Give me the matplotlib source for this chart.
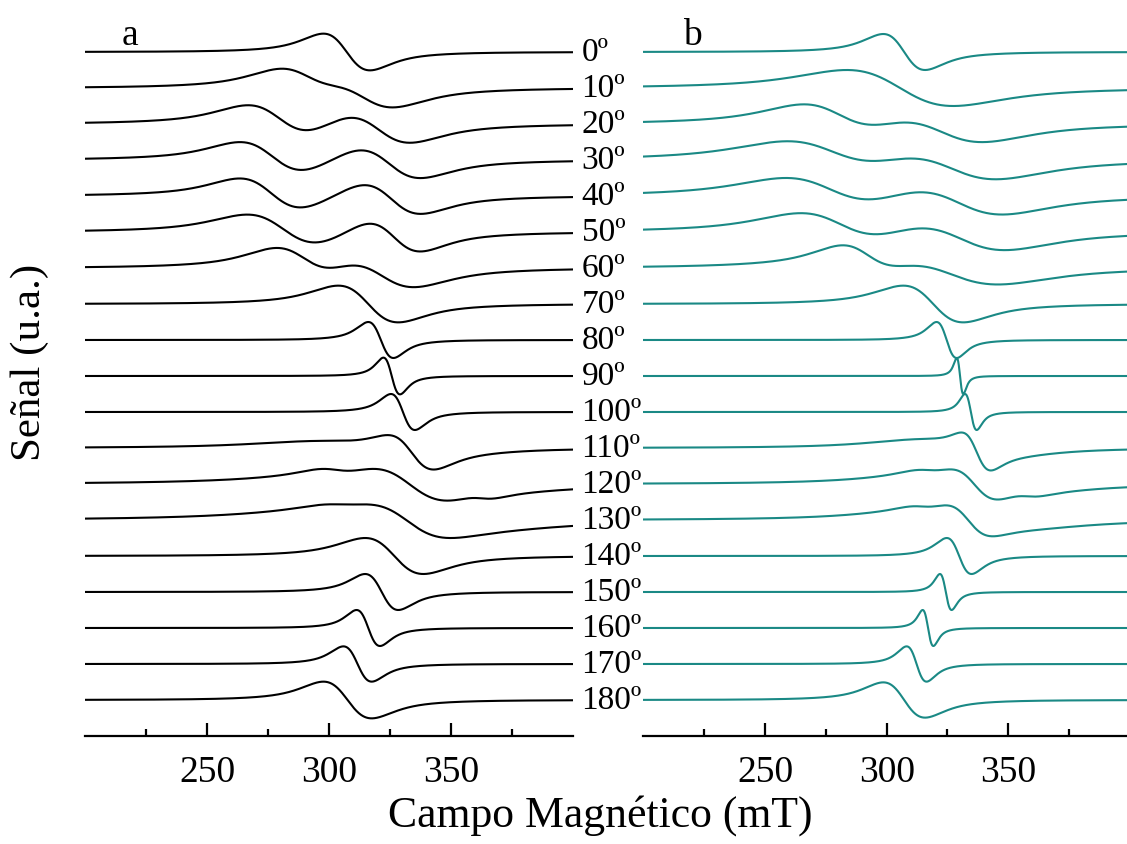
import numpy as np
import matplotlib.pyplot as plt

plt.rcParams['font.family'] = 'Liberation Serif'

angles = list(range(0, 190, 10))

# each resonance line: (field of max, field of min, amplitude), field in mT
lines_a = [
    [(297.7, 316.8, 0.51)],                                   # 0
    [(278.0, 304.0, 0.36), (300.0, 328.0, 0.42)],             # 10
    [(266.0, 294.0, 0.45), (306.0, 334.0, 0.45)],             # 20
    [(263.0, 291.0, 0.45), (311.0, 338.0, 0.45)],             # 30
    [(263.0, 290.0, 0.45), (313.0, 338.0, 0.45)],             # 40
    [(266.0, 297.0, 0.45), (315.0, 338.0, 0.46)],             # 50
    [(277.0, 303.0, 0.42), (306.0, 336.0, 0.45)],             # 60
    [(303.8, 328.4, 0.51)],                                   # 70
    [(316.1, 326.4, 0.50)],                                   # 80
    [(322.3, 329.1, 0.51)],                                   # 90
    [(325.4, 335.2, 0.50)],                                   # 100
    [(290.0, 340.0, 0.15), (325.0, 343.0, 0.45)],             # 110
    [(294.0, 312.0, 0.10), (300.0, 368.0, 0.16), (318.0, 348.0, 0.38),
     (356.0, 369.0, 0.06)],                                   # 120
    [(294.0, 314.0, 0.06), (298.0, 366.0, 0.21), (317.0, 347.0, 0.34)],  # 130
    [(314.8, 338.7, 0.50)],                                   # 140
    [(314.8, 328.4, 0.50)],                                   # 150
    [(311.3, 320.9, 0.50)],                                   # 160
    [(305.9, 317.5, 0.49)],                                   # 170
    [(297.7, 317.5, 0.51)],                                   # 180
]

lines_b = [
    [(298.6, 315.8, 0.50)],                                   # 0
    [(283.6, 327.4, 0.50)],                                   # 10
    [(264.0, 298.0, 0.42), (302.0, 341.0, 0.42)],             # 20
    [(257.0, 300.0, 0.42), (305.0, 347.0, 0.43)],             # 30
    [(257.0, 298.0, 0.42), (309.0, 349.0, 0.43)],             # 40
    [(263.0, 300.0, 0.42), (309.0, 350.0, 0.43)],             # 50
    [(280.0, 304.0, 0.36), (302.0, 347.0, 0.42)],             # 60
    [(306.8, 331.5, 0.51)],                                   # 70
    [(320.5, 328.8, 0.50)],                                   # 80
    [(328.8, 331.5, 0.50)],                                   # 90
    [(332.2, 337.0, 0.50)],                                   # 100
    [(310.0, 350.0, 0.20), (331.5, 342.5, 0.45)],             # 110
    [(310.0, 325.0, 0.08), (312.0, 362.0, 0.18), (327.0, 345.0, 0.36),
     (351.0, 364.0, 0.06)],                                   # 120
    [(308.0, 322.0, 0.07), (310.0, 360.0, 0.20), (325.0, 342.0, 0.34)],  # 130
    [(324.7, 334.9, 0.50)],                                   # 140
    [(321.9, 326.7, 0.50)],                                   # 150
    [(314.8, 319.2, 0.50)],                                   # 160
    [(308.2, 316.4, 0.49)],                                   # 170
    [(298.6, 315.8, 0.49)],                                   # 180
]

field = np.linspace(200, 400, 4001)


def derivative_line(x, x_max, x_min, amp, eta=0.8):
    # pseudo-Voigt first derivative, normalised so the extrema sit at x_max / x_min
    c = (x_max + x_min) / 2
    d = (x_min - x_max) / 2
    u = (x - c) / d
    gauss = -u * np.exp(-u**2 / 2) / np.exp(-0.5)
    v = u / np.sqrt(3)
    lor = -v / (1 + v**2)**2 / (9 / (16 * np.sqrt(3)))
    return amp * (eta * lor + (1 - eta) * gauss)


def spectrum(components):
    y = np.zeros_like(field)
    for comp in components:
        y += derivative_line(field, *comp)
    return y


W, H = 1127, 845
fig = plt.figure(figsize=(W / 100, H / 100), dpi=100)

n = len(angles)
spacing = 36.0
axis_y = 737
ax_a = fig.add_axes([85 / W, (H - axis_y) / H, (573 - 85) / W, axis_y / H])
ax_b = fig.add_axes([643.3 / W, (H - axis_y) / H, (1130 - 643.3) / W, axis_y / H])

for ax, lines, color in [(ax_a, lines_a, 'black'), (ax_b, lines_b, '#1a8985')]:
    for i, comps in enumerate(lines):
        offset = n - i
        ax.plot(field, spectrum(comps) + offset, color=color, lw=1.5)
    ax.set_xlim(200, 400)
    ax.set_ylim(0, axis_y / spacing)
    for s in ['left', 'right', 'top']:
        ax.spines[s].set_visible(False)
    ax.spines['bottom'].set_linewidth(1.6)
    ax.set_yticks([])
    ax.set_xticks([250, 300, 350])
    ax.set_xticks([225, 275, 325, 375], minor=True)
    ax.tick_params(axis='x', which='major', direction='in', length=9.5, width=1.6,
                   labelsize=27, pad=13)
    ax.tick_params(axis='x', which='minor', direction='in', length=5, width=1.6)
    ax.patch.set_alpha(0)

# angle labels between the two panels
for i, ang in enumerate(angles):
    offset = n - i
    ax_a.text(403.5, offset, f'{ang}º', fontsize=24, va='center', ha='left',
              clip_on=False)

ax_a.text(130 / W, 1 - 45 / H, 'a', transform=fig.transFigure, fontsize=27,
          ha='center', va='baseline')
ax_b.text(692 / W, 1 - 45 / H, 'b', transform=fig.transFigure, fontsize=27,
          ha='center', va='baseline')

fig.text(30 / W, 1 - 362 / H, 'Señal (u.a.)', fontsize=31, rotation=90,
         ha='center', va='center')
fig.text(600 / W, 1 - 816 / H, 'Campo Magnético (mT)', fontsize=31.5,
         ha='center', va='center')

fig.savefig('out.png', dpi=100)
